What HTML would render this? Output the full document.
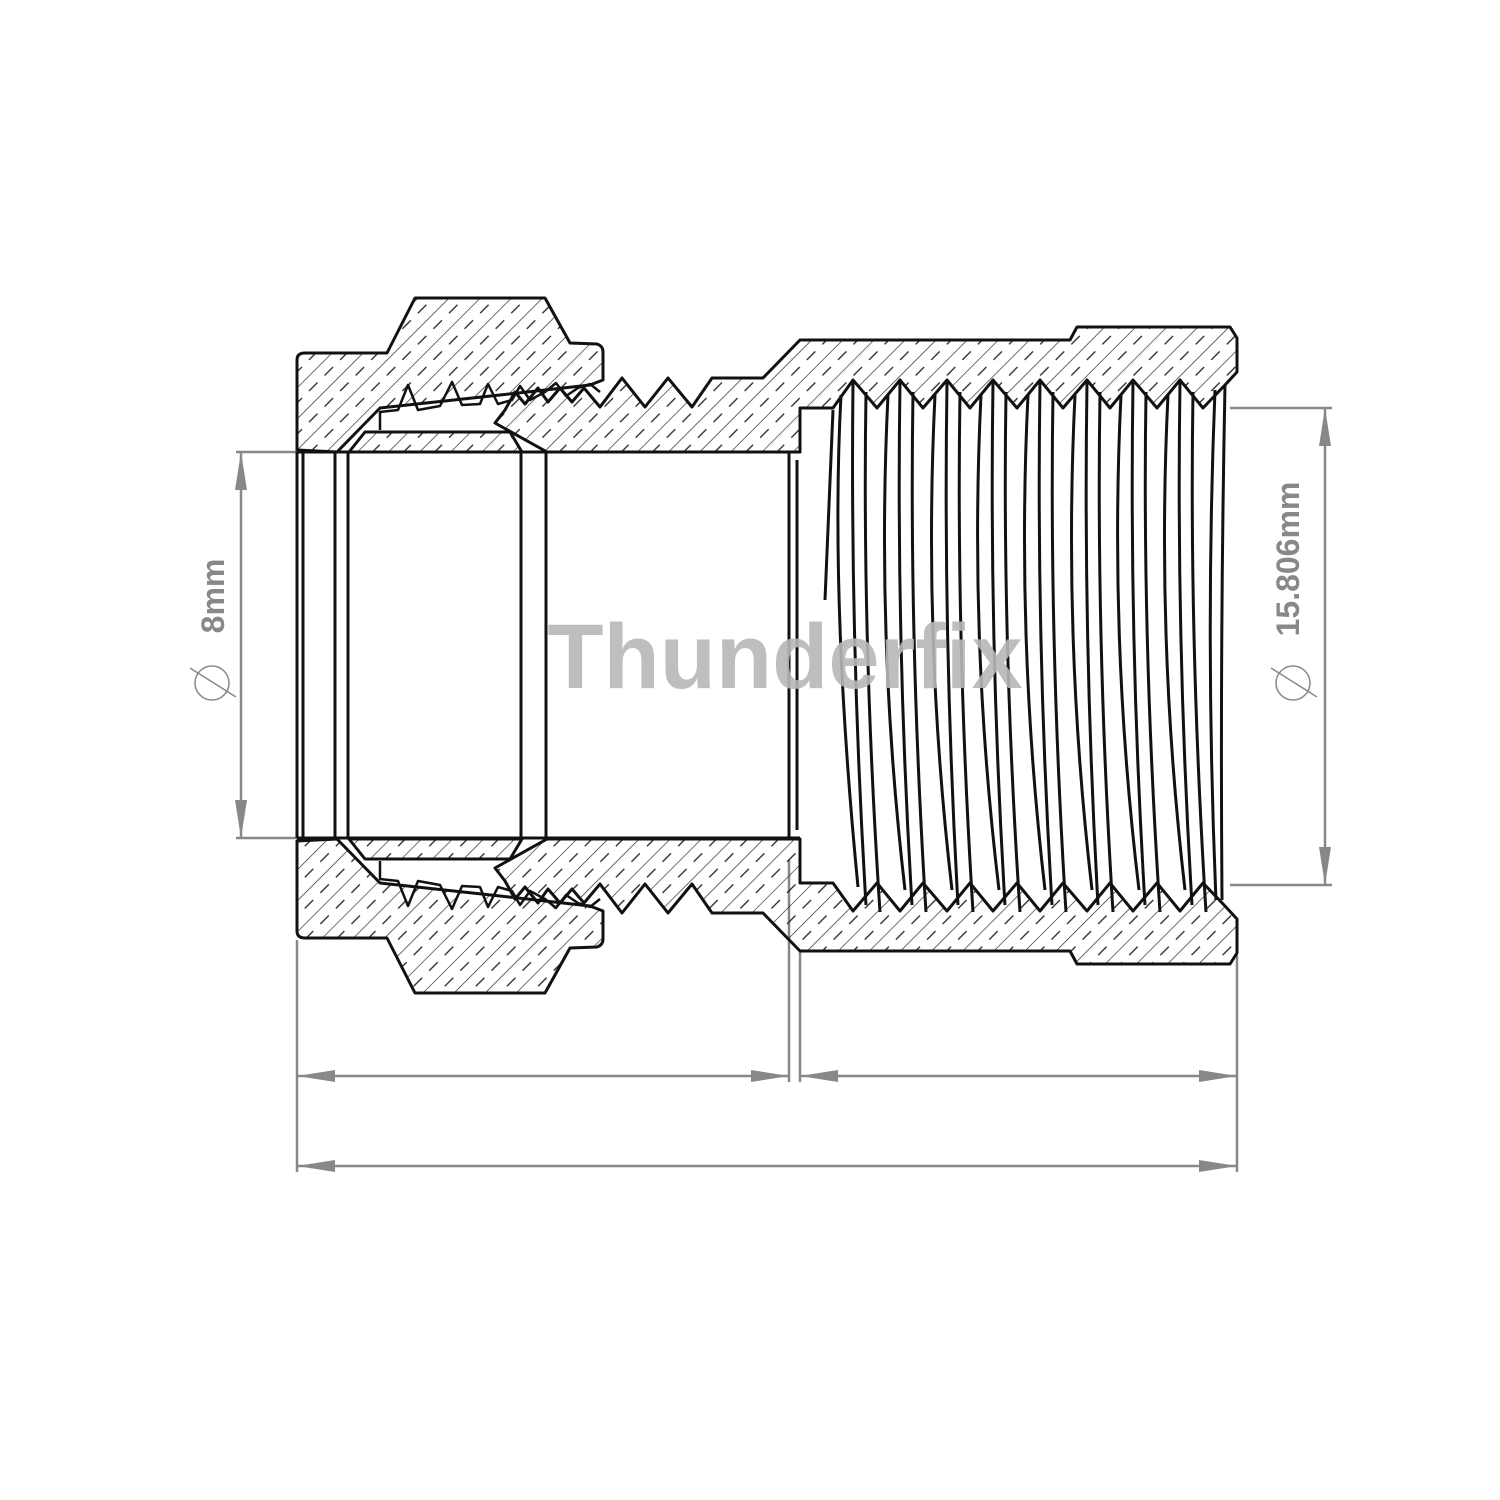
<!DOCTYPE html>
<html><head><meta charset="utf-8"><style>html,body{margin:0;padding:0;background:#fff}svg{display:block}</style></head>
<body>
<svg width="1500" height="1500" viewBox="0 0 1500 1500" xmlns="http://www.w3.org/2000/svg">
<defs>
<pattern id="h" width="22" height="22" patternUnits="userSpaceOnUse" patternTransform="rotate(45)">
<line x1="0" y1="0" x2="0" y2="22" stroke="#222" stroke-width="1.3"/>
<line x1="11" y1="2" x2="11" y2="14" stroke="#222" stroke-width="1.3"/>
</pattern>
<pattern id="hm" width="22" height="22" patternUnits="userSpaceOnUse" patternTransform="rotate(-45)">
<line x1="0" y1="0" x2="0" y2="22" stroke="#222" stroke-width="1.3"/>
<line x1="11" y1="2" x2="11" y2="14" stroke="#222" stroke-width="1.3"/>
</pattern>
</defs>
<rect width="1500" height="1500" fill="#fff"/>
<g stroke="#888" stroke-width="2.5" fill="#888">
<line x1="236" y1="452" x2="300" y2="452"/><line x1="236" y1="838" x2="300" y2="838"/>
<line x1="241" y1="452" x2="241" y2="838"/>
<path d="M241,452 L235,490 L247,490 Z M241,838 L235,800 L247,800 Z" stroke="none"/>
<line x1="1230" y1="408" x2="1332" y2="408"/><line x1="1230" y1="885" x2="1332" y2="885"/>
<line x1="1325" y1="408" x2="1325" y2="885"/>
<path d="M1325,408 L1319,446 L1331,446 Z M1325,885 L1319,847 L1331,847 Z" stroke="none"/>
<line x1="297" y1="940" x2="297" y2="1172"/><line x1="789" y1="860" x2="789" y2="1082"/>
<line x1="800" y1="950" x2="800" y2="1082"/><line x1="1237" y1="955" x2="1237" y2="1172"/>
<line x1="297" y1="1076" x2="789" y2="1076"/><line x1="800" y1="1076" x2="1237" y2="1076"/>
<line x1="297" y1="1166" x2="1237" y2="1166"/>
<path d="M297,1076 L335,1070 L335,1082 Z M789,1076 L751,1070 L751,1082 Z M800,1076 L838,1070 L838,1082 Z M1237,1076 L1199,1070 L1199,1082 Z M297,1166 L335,1160 L335,1172 Z M1237,1166 L1199,1160 L1199,1172 Z" stroke="none"/>
</g>
<g stroke="#111" stroke-width="3" fill="none">
<line x1="297" y1="452" x2="297" y2="838"/><line x1="303" y1="452" x2="303" y2="838"/>
<line x1="335" y1="452" x2="335" y2="838"/><line x1="348" y1="452" x2="348" y2="838"/>
<line x1="521" y1="452" x2="521" y2="838"/><line x1="546" y1="452" x2="546" y2="838"/>
<line x1="789" y1="452" x2="789" y2="838"/><line x1="797" y1="460" x2="797" y2="830"/>
<line x1="297" y1="452" x2="800" y2="452"/><line x1="297" y1="838" x2="800" y2="838"/>
</g>
<g stroke="#111" stroke-width="3" stroke-linejoin="round">
<path d="M297,450 L297,360 Q297,353 305,353 L387,353 L415,298 L545,298 L570,343 L597,344 Q603,346 603,352 L603,380 L590,385 L500,395 L380,408 L337,452 Z" fill="url(#h)"/>
<path d="M349,452 L365,432 L510,432 L522,452 Z" fill="url(#h)"/>
<path d="M380,430 L380,412 L398,410 L408,385 L418,410 L440,406 L452,382 L462,405 L480,404 L488,384 L498,404 L512,400 L520,386 L530,400 L545,392 L556,383 L566,396 L578,388 L590,384 L600,392" fill="none" stroke-width="2.5"/>
<path d="M495,423 L505,410 L515,392 L525,404 L538,388 L548,402 L560,388 L572,402 L584,388 L600,407 L622,378 L645,407 L668,378 L692,407 L712,378 L763,378 L800,340 L1070,340 L1077,327 L1230,327 L1237,338 L1237,372 L1225,385 L1203,408 L1180,380 L1157,408 L1133,380 L1110,408 L1087,380 L1063,408 L1040,380 L1017,408 L993,380 L970,408 L947,380 L923,408 L900,380 L877,408 L853,380 L833,408 L800,408 L800,452 L547,452 Z" fill="url(#h)"/>
</g>
<g transform="translate(0,1291) scale(1,-1)" stroke="#111" stroke-width="3" stroke-linejoin="round">
<path d="M297,450 L297,360 Q297,353 305,353 L387,353 L415,298 L545,298 L570,343 L597,344 Q603,346 603,352 L603,380 L590,385 L500,395 L380,408 L337,452 Z" fill="url(#hm)"/>
<path d="M349,452 L365,432 L510,432 L522,452 Z" fill="url(#hm)"/>
<path d="M380,430 L380,412 L398,410 L408,385 L418,410 L440,406 L452,382 L462,405 L480,404 L488,384 L498,404 L512,400 L520,386 L530,400 L545,392 L556,383 L566,396 L578,388 L590,384 L600,392" fill="none" stroke-width="2.5"/>
<path d="M495,423 L505,410 L515,392 L525,404 L538,388 L548,402 L560,388 L572,402 L584,388 L600,407 L622,378 L645,407 L668,378 L692,407 L712,378 L763,378 L800,340 L1070,340 L1077,327 L1230,327 L1237,338 L1237,372 L1225,385 L1203,408 L1180,380 L1157,408 L1133,380 L1110,408 L1087,380 L1063,408 L1040,380 L1017,408 L993,380 L970,408 L947,380 L923,408 L900,380 L877,408 L853,380 L833,408 L800,408 L800,452 L547,452 Z" fill="url(#hm)"/>
</g>
<g stroke="#111" stroke-width="3" fill="none">
<path d="M833,410 L825,600"/>
<path d="M841,395 Q830,600 858,887 M853,382 Q850,640 866,905 M866,392 Q862,640 880,912"/>
<path d="M888,395 Q876,640 905,890 M900,382 Q896,640 912,905 M913,392 Q909,640 926,912"/>
<path d="M935,395 Q923,640 952,890 M947,382 Q943,640 958,905 M960,392 Q956,640 973,912"/>
<path d="M981,395 Q969,640 999,890 M993,382 Q989,640 1005,905 M1006,392 Q1002,640 1020,912"/>
<path d="M1028,395 Q1016,640 1045,890 M1040,382 Q1036,640 1052,905 M1053,392 Q1049,640 1066,912"/>
<path d="M1075,395 Q1063,640 1092,890 M1087,382 Q1083,640 1098,905 M1100,392 Q1096,640 1113,912"/>
<path d="M1121,395 Q1109,640 1139,890 M1133,382 Q1129,640 1145,905 M1146,392 Q1142,640 1160,912"/>
<path d="M1168,395 Q1156,640 1185,890 M1180,382 Q1176,640 1192,905 M1193,392 Q1189,640 1206,912"/>
<path d="M1215,390 Q1205,640 1216,900 M1225,385 Q1220,640 1222,900"/>
</g>
<text x="785" y="688" text-anchor="middle" font-family="Liberation Sans, sans-serif" font-weight="bold" font-size="92" fill="#b8b8b8" opacity="0.9">Thunderfix</text>
<g font-family="Liberation Sans, sans-serif" font-weight="bold" fill="#888">
<text transform="translate(224,596) rotate(-90)" text-anchor="middle" font-size="32">8mm</text>
<text transform="translate(1299,559) rotate(-90)" text-anchor="middle" font-size="32">15.806mm</text>
</g>
<g stroke="#888" stroke-width="1.5" fill="none">
<circle cx="212" cy="683" r="17"/><line x1="190" y1="668" x2="236" y2="697"/>
<circle cx="1293" cy="683" r="17"/><line x1="1271" y1="668" x2="1317" y2="697"/>
</g>
</svg>
</body></html>
